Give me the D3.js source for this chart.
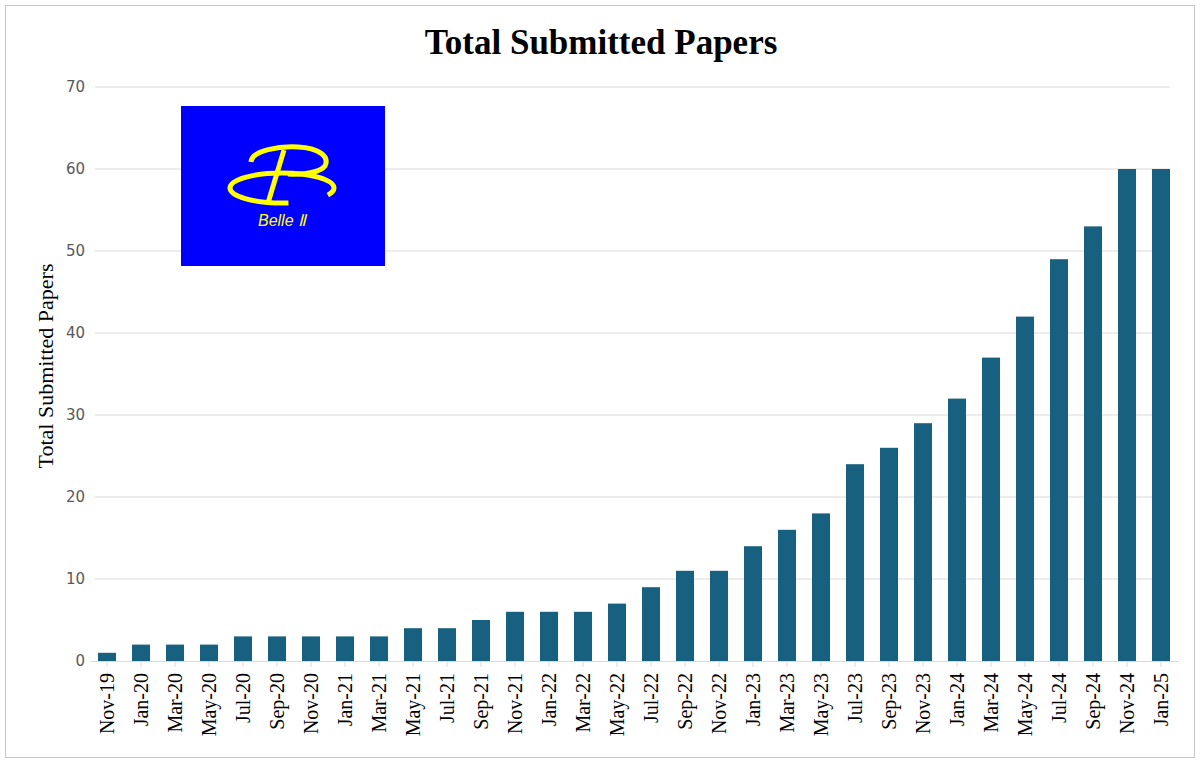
<!DOCTYPE html>
<html><head><meta charset="utf-8">
<script src="https://cdn.jsdelivr.net/npm/d3@7"></script>
<style>body{margin:0;background:#fff}</style></head>
<body><div id="chart"></div>
<script>
const months = ["Nov-19","Jan-20","Mar-20","May-20","Jul-20","Sep-20","Nov-20","Jan-21","Mar-21","May-21","Jul-21","Sep-21","Nov-21","Jan-22","Mar-22","May-22","Jul-22","Sep-22","Nov-22","Jan-23","Mar-23","May-23","Jul-23","Sep-23","Nov-23","Jan-24","Mar-24","May-24","Jul-24","Sep-24","Nov-24","Jan-25"];
const papers = [1,2,2,2,3,3,3,3,3,4,4,5,6,6,6,7,9,11,11,14,16,18,24,26,29,32,37,42,49,53,60,60];
const yTicks = [0,10,20,30,40,50,60,70];

const W = 1200, H = 764;
const svg = d3.select('#chart').append('svg').attr('width', W).attr('height', H);
svg.append('rect').attr('x',5.5).attr('y',5.5).attr('width',1189).attr('height',752)
  .attr('fill','#fff').attr('stroke','#c8c8c8');

const x = d3.scaleBand().domain(months).range([90,1178]).paddingInner(0.47).paddingOuter(0.235);
const y = d3.scaleLinear().domain([0,70]).range([661,87]);

svg.append('g').selectAll('line').data(yTicks.slice(1)).join('line')
  .attr('x1',95).attr('x2',1170).attr('y1',d=>y(d)).attr('y2',d=>y(d))
  .attr('stroke','#d9d9d9');

svg.append('g').selectAll('text').data(yTicks).join('text')
  .attr('x',85).attr('y',d=>y(d)+5).attr('text-anchor','end')
  .attr('font-family','DejaVu Sans').attr('font-size',15).attr('fill','#595959')
  .text(d=>d);

svg.append('g').selectAll('rect').data(papers).join('rect')
  .attr('x',(d,i)=>x(months[i])).attr('width',x.bandwidth())
  .attr('y',d=>y(d)).attr('height',d=>y(0)-y(d)).attr('fill','#17607f');

const xa = svg.append('g').attr('transform','translate(0,661)')
  .call(d3.axisBottom(x).tickSize(6).tickSizeOuter(0));
xa.attr('font-size',null).attr('font-family',null);
xa.select('.domain').attr('stroke','#d9d9d9');
xa.selectAll('.tick line').attr('stroke','#d9d9d9');
xa.selectAll('text').style('font-family','Liberation Serif').style('font-size','20px').attr('fill','#000')
  .attr('transform','rotate(-90)').attr('text-anchor','end').attr('dy','0.35em')
  .attr('x',-12).attr('y',0);

svg.append('text').attr('x',601).attr('y',54).attr('text-anchor','middle')
  .attr('font-family','Liberation Serif').attr('font-weight','bold').attr('font-size',35)
  .text('Total Submitted Papers');
svg.append('text').attr('transform','translate(53,366) rotate(-90)').attr('text-anchor','middle')
  .attr('font-family','Liberation Serif').attr('font-size',22).text('Total Submitted Papers');

// logo
const lg = svg.append('g');
lg.append('rect').attr('x',181).attr('y',106).attr('width',204).attr('height',160).attr('fill','#0000ff');
lg.append('ellipse').attr('cx',282).attr('cy',188).attr('rx',52).attr('ry',15)
  .attr('fill','none').attr('stroke','#ffff00').attr('stroke-width',5)
  .attr('stroke-dasharray','270 40').attr('stroke-dashoffset',-50);
lg.append('path').attr('d','M251,162 C252,150 280,146 298,147 C318,148 330,156 325,166 C320,173 300,175 288,174')
  .attr('fill','none').attr('stroke','#ffff00').attr('stroke-width',5);
lg.append('path').attr('d','M284,150 L268,203').attr('stroke','#ffff00').attr('stroke-width',5);
lg.append('text').attr('x',282).attr('y',226).attr('text-anchor','middle')
  .attr('font-family','Liberation Sans').attr('font-style','italic').attr('font-size',16).attr('fill','#ffff00')
  .text('Belle Ⅱ');
</script></body></html>
